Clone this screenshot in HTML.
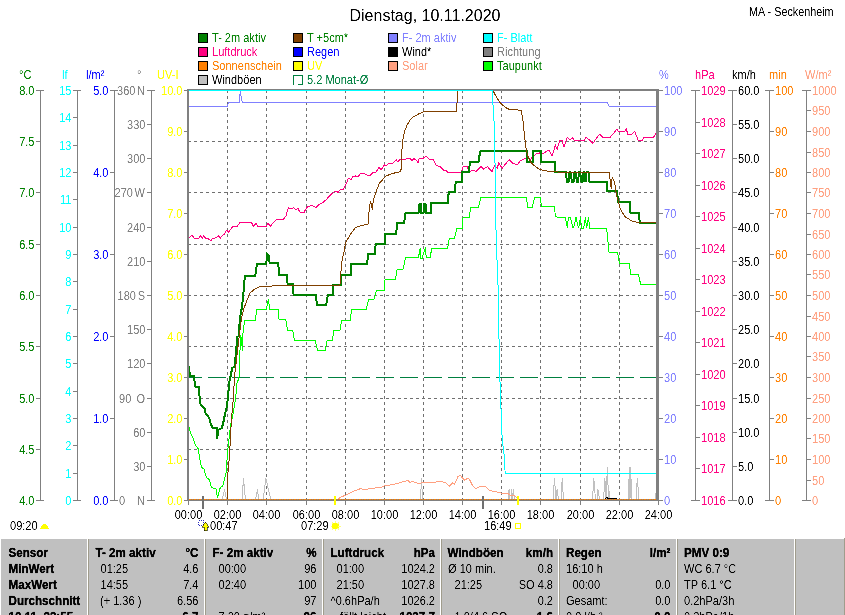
<!DOCTYPE html>
<html><head><meta charset="utf-8"><title>Dienstag, 10.11.2020</title>
<style>
html,body{margin:0;padding:0;background:#fff;width:845px;height:615px;overflow:hidden}
svg{display:block}
text{white-space:pre}
</style></head><body>
<svg width="845" height="615" viewBox="0 0 845 615" font-family='"Liberation Sans", Arial, sans-serif' shape-rendering="crispEdges">
<defs><filter id="crisp" x="-5%" y="-20%" width="110%" height="140%"><feComponentTransfer><feFuncA type="table" tableValues="0 0.1 0.9 1"/></feComponentTransfer></filter></defs>
<rect width="845" height="615" fill="#fff"/>
<text transform="translate(349.5,21) scale(1.0,1)" fill="#000" font-size="16" text-anchor="start" filter="url(#crisp)">Dienstag, 10.11.2020</text>
<text transform="translate(749,16) scale(0.9,1)" fill="#000" font-size="12" text-anchor="start" filter="url(#crisp)">MA - Seckenheim</text>
<rect x="198.5" y="33.5" width="9" height="9" fill="#008000" stroke="#000" stroke-width="1"/>
<text transform="translate(212,42) scale(0.92,1)" fill="#008000" font-size="12" text-anchor="start" filter="url(#crisp)">T- 2m aktiv</text>
<rect x="198.5" y="47.5" width="9" height="9" fill="#FF0080" stroke="#000" stroke-width="1"/>
<text transform="translate(212,56) scale(0.92,1)" fill="#FF0080" font-size="12" text-anchor="start" filter="url(#crisp)">Luftdruck</text>
<rect x="198.5" y="61.5" width="9" height="9" fill="#FF8000" stroke="#000" stroke-width="1"/>
<text transform="translate(212,70) scale(0.92,1)" fill="#FF8000" font-size="12" text-anchor="start" filter="url(#crisp)">Sonnenschein</text>
<rect x="198.5" y="75.5" width="9" height="9" fill="#C0C0C0" stroke="#000" stroke-width="1"/>
<text transform="translate(212,84) scale(0.92,1)" fill="#000000" font-size="12" text-anchor="start" filter="url(#crisp)">Windböen</text>
<rect x="293.5" y="33.5" width="9" height="9" fill="#804000" stroke="#000" stroke-width="1"/>
<text transform="translate(307,42) scale(0.92,1)" fill="#008000" font-size="12" text-anchor="start" filter="url(#crisp)">T +5cm*</text>
<rect x="293.5" y="47.5" width="9" height="9" fill="#0000FF" stroke="#000" stroke-width="1"/>
<text transform="translate(307,56) scale(0.92,1)" fill="#0000FF" font-size="12" text-anchor="start" filter="url(#crisp)">Regen</text>
<rect x="293.5" y="61.5" width="9" height="9" fill="#FFFF00" stroke="#000" stroke-width="1"/>
<text transform="translate(307,70) scale(0.92,1)" fill="#FFFF00" font-size="12" text-anchor="start" filter="url(#crisp)">UV</text>
<path d="M293.5,85 V75.5 H302.5 V84.5 H298" fill="none" stroke="#008040" stroke-width="1"/>
<text transform="translate(307,84) scale(0.92,1)" fill="#008040" font-size="12" text-anchor="start" filter="url(#crisp)">5.2 Monat-Ø</text>
<rect x="388.5" y="33.5" width="9" height="9" fill="#8080FF" stroke="#000" stroke-width="1"/>
<text transform="translate(402,42) scale(0.92,1)" fill="#8080FF" font-size="12" text-anchor="start" filter="url(#crisp)">F- 2m aktiv</text>
<rect x="388.5" y="47.5" width="9" height="9" fill="#000000" stroke="#000" stroke-width="1"/>
<text transform="translate(402,56) scale(0.92,1)" fill="#000000" font-size="12" text-anchor="start" filter="url(#crisp)">Wind*</text>
<rect x="388.5" y="61.5" width="9" height="9" fill="#FFA080" stroke="#000" stroke-width="1"/>
<text transform="translate(402,70) scale(0.92,1)" fill="#FFA080" font-size="12" text-anchor="start" filter="url(#crisp)">Solar</text>
<rect x="483.5" y="33.5" width="9" height="9" fill="#00FFFF" stroke="#000" stroke-width="1"/>
<text transform="translate(497,42) scale(0.92,1)" fill="#00FFFF" font-size="12" text-anchor="start" filter="url(#crisp)">F- Blatt</text>
<rect x="483.5" y="47.5" width="9" height="9" fill="#808080" stroke="#000" stroke-width="1"/>
<text transform="translate(497,56) scale(0.92,1)" fill="#808080" font-size="12" text-anchor="start" filter="url(#crisp)">Richtung</text>
<rect x="483.5" y="61.5" width="9" height="9" fill="#00FF00" stroke="#000" stroke-width="1"/>
<text transform="translate(497,70) scale(0.92,1)" fill="#008000" font-size="12" text-anchor="start" filter="url(#crisp)">Taupunkt</text>
<text transform="translate(19,79) scale(0.92,1)" fill="#008000" font-size="12" text-anchor="start" filter="url(#crisp)">°C</text>
<text transform="translate(62,79) scale(0.92,1)" fill="#00FFFF" font-size="12" text-anchor="start" filter="url(#crisp)">lf</text>
<text transform="translate(86,79) scale(0.92,1)" fill="#0000FF" font-size="12" text-anchor="start" filter="url(#crisp)">l/m²</text>
<text transform="translate(137,79) scale(0.92,1)" fill="#808080" font-size="12" text-anchor="start" filter="url(#crisp)">°</text>
<text transform="translate(157,79) scale(0.92,1)" fill="#FFFF00" font-size="12" text-anchor="start" filter="url(#crisp)">UV-I</text>
<text transform="translate(659,79) scale(0.92,1)" fill="#8080FF" font-size="12" text-anchor="start" filter="url(#crisp)">%</text>
<text transform="translate(695,79) scale(0.92,1)" fill="#FF0080" font-size="12" text-anchor="start" filter="url(#crisp)">hPa</text>
<text transform="translate(732,79) scale(0.92,1)" fill="#000000" font-size="12" text-anchor="start" filter="url(#crisp)">km/h</text>
<text transform="translate(769,79) scale(0.92,1)" fill="#FF8000" font-size="12" text-anchor="start" filter="url(#crisp)">min</text>
<text transform="translate(805,79) scale(0.92,1)" fill="#FFA080" font-size="12" text-anchor="start" filter="url(#crisp)">W/m²</text>
<rect x="40" y="90" width="1" height="411" fill="#808080"/>
<rect x="36" y="90" width="8" height="1" fill="#808080"/>
<text transform="translate(34.5,95) scale(0.92,1)" fill="#008000" font-size="12" text-anchor="end" filter="url(#crisp)">8.0</text>
<rect x="36" y="141" width="5" height="1" fill="#808080"/>
<text transform="translate(34.5,146) scale(0.92,1)" fill="#008000" font-size="12" text-anchor="end" filter="url(#crisp)">7.5</text>
<rect x="36" y="192" width="5" height="1" fill="#808080"/>
<text transform="translate(34.5,197) scale(0.92,1)" fill="#008000" font-size="12" text-anchor="end" filter="url(#crisp)">7.0</text>
<rect x="36" y="244" width="5" height="1" fill="#808080"/>
<text transform="translate(34.5,249) scale(0.92,1)" fill="#008000" font-size="12" text-anchor="end" filter="url(#crisp)">6.5</text>
<rect x="36" y="295" width="5" height="1" fill="#808080"/>
<text transform="translate(34.5,300) scale(0.92,1)" fill="#008000" font-size="12" text-anchor="end" filter="url(#crisp)">6.0</text>
<rect x="36" y="346" width="5" height="1" fill="#808080"/>
<text transform="translate(34.5,351) scale(0.92,1)" fill="#008000" font-size="12" text-anchor="end" filter="url(#crisp)">5.5</text>
<rect x="36" y="398" width="5" height="1" fill="#808080"/>
<text transform="translate(34.5,403) scale(0.92,1)" fill="#008000" font-size="12" text-anchor="end" filter="url(#crisp)">5.0</text>
<rect x="36" y="449" width="5" height="1" fill="#808080"/>
<text transform="translate(34.5,454) scale(0.92,1)" fill="#008000" font-size="12" text-anchor="end" filter="url(#crisp)">4.5</text>
<rect x="36" y="500" width="8" height="1" fill="#808080"/>
<text transform="translate(34.5,505) scale(0.92,1)" fill="#008000" font-size="12" text-anchor="end" filter="url(#crisp)">4.0</text>
<rect x="77" y="90" width="1" height="411" fill="#808080"/>
<rect x="73" y="90" width="8" height="1" fill="#808080"/>
<text transform="translate(71.5,95) scale(0.92,1)" fill="#00FFFF" font-size="12" text-anchor="end" filter="url(#crisp)">15</text>
<rect x="73" y="117" width="5" height="1" fill="#808080"/>
<text transform="translate(71.5,122) scale(0.92,1)" fill="#00FFFF" font-size="12" text-anchor="end" filter="url(#crisp)">14</text>
<rect x="73" y="145" width="5" height="1" fill="#808080"/>
<text transform="translate(71.5,150) scale(0.92,1)" fill="#00FFFF" font-size="12" text-anchor="end" filter="url(#crisp)">13</text>
<rect x="73" y="172" width="5" height="1" fill="#808080"/>
<text transform="translate(71.5,177) scale(0.92,1)" fill="#00FFFF" font-size="12" text-anchor="end" filter="url(#crisp)">12</text>
<rect x="73" y="199" width="5" height="1" fill="#808080"/>
<text transform="translate(71.5,204) scale(0.92,1)" fill="#00FFFF" font-size="12" text-anchor="end" filter="url(#crisp)">11</text>
<rect x="73" y="227" width="5" height="1" fill="#808080"/>
<text transform="translate(71.5,232) scale(0.92,1)" fill="#00FFFF" font-size="12" text-anchor="end" filter="url(#crisp)">10</text>
<rect x="73" y="254" width="5" height="1" fill="#808080"/>
<text transform="translate(71.5,259) scale(0.92,1)" fill="#00FFFF" font-size="12" text-anchor="end" filter="url(#crisp)">9</text>
<rect x="73" y="281" width="5" height="1" fill="#808080"/>
<text transform="translate(71.5,286) scale(0.92,1)" fill="#00FFFF" font-size="12" text-anchor="end" filter="url(#crisp)">8</text>
<rect x="73" y="309" width="5" height="1" fill="#808080"/>
<text transform="translate(71.5,314) scale(0.92,1)" fill="#00FFFF" font-size="12" text-anchor="end" filter="url(#crisp)">7</text>
<rect x="73" y="336" width="5" height="1" fill="#808080"/>
<text transform="translate(71.5,341) scale(0.92,1)" fill="#00FFFF" font-size="12" text-anchor="end" filter="url(#crisp)">6</text>
<rect x="73" y="363" width="5" height="1" fill="#808080"/>
<text transform="translate(71.5,368) scale(0.92,1)" fill="#00FFFF" font-size="12" text-anchor="end" filter="url(#crisp)">5</text>
<rect x="73" y="391" width="5" height="1" fill="#808080"/>
<text transform="translate(71.5,396) scale(0.92,1)" fill="#00FFFF" font-size="12" text-anchor="end" filter="url(#crisp)">4</text>
<rect x="73" y="418" width="5" height="1" fill="#808080"/>
<text transform="translate(71.5,423) scale(0.92,1)" fill="#00FFFF" font-size="12" text-anchor="end" filter="url(#crisp)">3</text>
<rect x="73" y="445" width="5" height="1" fill="#808080"/>
<text transform="translate(71.5,450) scale(0.92,1)" fill="#00FFFF" font-size="12" text-anchor="end" filter="url(#crisp)">2</text>
<rect x="73" y="473" width="5" height="1" fill="#808080"/>
<text transform="translate(71.5,478) scale(0.92,1)" fill="#00FFFF" font-size="12" text-anchor="end" filter="url(#crisp)">1</text>
<rect x="73" y="500" width="8" height="1" fill="#808080"/>
<text transform="translate(71.5,505) scale(0.92,1)" fill="#00FFFF" font-size="12" text-anchor="end" filter="url(#crisp)">0</text>
<rect x="114" y="90" width="1" height="411" fill="#808080"/>
<rect x="110" y="90" width="8" height="1" fill="#808080"/>
<text transform="translate(108.5,95) scale(0.92,1)" fill="#0000FF" font-size="12" text-anchor="end" filter="url(#crisp)">5.0</text>
<rect x="110" y="172" width="5" height="1" fill="#808080"/>
<text transform="translate(108.5,177) scale(0.92,1)" fill="#0000FF" font-size="12" text-anchor="end" filter="url(#crisp)">4.0</text>
<rect x="110" y="254" width="5" height="1" fill="#808080"/>
<text transform="translate(108.5,259) scale(0.92,1)" fill="#0000FF" font-size="12" text-anchor="end" filter="url(#crisp)">3.0</text>
<rect x="110" y="336" width="5" height="1" fill="#808080"/>
<text transform="translate(108.5,341) scale(0.92,1)" fill="#0000FF" font-size="12" text-anchor="end" filter="url(#crisp)">2.0</text>
<rect x="110" y="418" width="5" height="1" fill="#808080"/>
<text transform="translate(108.5,423) scale(0.92,1)" fill="#0000FF" font-size="12" text-anchor="end" filter="url(#crisp)">1.0</text>
<rect x="110" y="500" width="8" height="1" fill="#808080"/>
<text transform="translate(108.5,505) scale(0.92,1)" fill="#0000FF" font-size="12" text-anchor="end" filter="url(#crisp)">0.0</text>
<rect x="151" y="90" width="1" height="411" fill="#808080"/>
<rect x="147" y="90" width="8" height="1" fill="#808080"/>
<rect x="147" y="124" width="5" height="1" fill="#808080"/>
<text transform="translate(145.5,129) scale(0.92,1)" fill="#808080" font-size="12" text-anchor="end" filter="url(#crisp)">330</text>
<rect x="147" y="158" width="5" height="1" fill="#808080"/>
<text transform="translate(145.5,163) scale(0.92,1)" fill="#808080" font-size="12" text-anchor="end" filter="url(#crisp)">300</text>
<rect x="147" y="192" width="5" height="1" fill="#808080"/>
<rect x="147" y="227" width="5" height="1" fill="#808080"/>
<text transform="translate(145.5,232) scale(0.92,1)" fill="#808080" font-size="12" text-anchor="end" filter="url(#crisp)">240</text>
<rect x="147" y="261" width="5" height="1" fill="#808080"/>
<text transform="translate(145.5,266) scale(0.92,1)" fill="#808080" font-size="12" text-anchor="end" filter="url(#crisp)">210</text>
<rect x="147" y="295" width="5" height="1" fill="#808080"/>
<rect x="147" y="329" width="5" height="1" fill="#808080"/>
<text transform="translate(145.5,334) scale(0.92,1)" fill="#808080" font-size="12" text-anchor="end" filter="url(#crisp)">150</text>
<rect x="147" y="363" width="5" height="1" fill="#808080"/>
<text transform="translate(145.5,368) scale(0.92,1)" fill="#808080" font-size="12" text-anchor="end" filter="url(#crisp)">120</text>
<rect x="147" y="398" width="5" height="1" fill="#808080"/>
<rect x="147" y="432" width="5" height="1" fill="#808080"/>
<text transform="translate(145.5,437) scale(0.92,1)" fill="#808080" font-size="12" text-anchor="end" filter="url(#crisp)">60</text>
<rect x="147" y="466" width="5" height="1" fill="#808080"/>
<text transform="translate(145.5,471) scale(0.92,1)" fill="#808080" font-size="12" text-anchor="end" filter="url(#crisp)">30</text>
<rect x="147" y="500" width="8" height="1" fill="#808080"/>
<text transform="translate(117,95) scale(0.92,1)" fill="#808080" font-size="12" text-anchor="start" filter="url(#crisp)">360</text>
<text transform="translate(145,95) scale(0.92,1)" fill="#808080" font-size="12" text-anchor="end" filter="url(#crisp)">N</text>
<text transform="translate(114.5,197) scale(0.92,1)" fill="#808080" font-size="12" text-anchor="start" filter="url(#crisp)">270</text>
<text transform="translate(145,197) scale(0.92,1)" fill="#808080" font-size="12" text-anchor="end" filter="url(#crisp)">W</text>
<text transform="translate(117.5,300) scale(0.92,1)" fill="#808080" font-size="12" text-anchor="start" filter="url(#crisp)">180</text>
<text transform="translate(145,300) scale(0.92,1)" fill="#808080" font-size="12" text-anchor="end" filter="url(#crisp)">S</text>
<text transform="translate(119,403) scale(0.92,1)" fill="#808080" font-size="12" text-anchor="start" filter="url(#crisp)">90</text>
<text transform="translate(145,403) scale(0.92,1)" fill="#808080" font-size="12" text-anchor="end" filter="url(#crisp)">O</text>
<text transform="translate(119,505) scale(0.92,1)" fill="#808080" font-size="12" text-anchor="start" filter="url(#crisp)">0</text>
<text transform="translate(145,505) scale(0.92,1)" fill="#808080" font-size="12" text-anchor="end" filter="url(#crisp)">N</text>
<rect x="184" y="90" width="4" height="1" fill="#808080"/>
<text transform="translate(182.5,95) scale(0.92,1)" fill="#FFFF00" font-size="12" text-anchor="end" filter="url(#crisp)">10.0</text>
<rect x="184" y="131" width="4" height="1" fill="#808080"/>
<text transform="translate(182.5,136) scale(0.92,1)" fill="#FFFF00" font-size="12" text-anchor="end" filter="url(#crisp)">9.0</text>
<rect x="184" y="172" width="4" height="1" fill="#808080"/>
<text transform="translate(182.5,177) scale(0.92,1)" fill="#FFFF00" font-size="12" text-anchor="end" filter="url(#crisp)">8.0</text>
<rect x="184" y="213" width="4" height="1" fill="#808080"/>
<text transform="translate(182.5,218) scale(0.92,1)" fill="#FFFF00" font-size="12" text-anchor="end" filter="url(#crisp)">7.0</text>
<rect x="184" y="254" width="4" height="1" fill="#808080"/>
<text transform="translate(182.5,259) scale(0.92,1)" fill="#FFFF00" font-size="12" text-anchor="end" filter="url(#crisp)">6.0</text>
<rect x="184" y="295" width="4" height="1" fill="#808080"/>
<text transform="translate(182.5,300) scale(0.92,1)" fill="#FFFF00" font-size="12" text-anchor="end" filter="url(#crisp)">5.0</text>
<rect x="184" y="336" width="4" height="1" fill="#808080"/>
<text transform="translate(182.5,341) scale(0.92,1)" fill="#FFFF00" font-size="12" text-anchor="end" filter="url(#crisp)">4.0</text>
<rect x="184" y="377" width="4" height="1" fill="#808080"/>
<text transform="translate(182.5,382) scale(0.92,1)" fill="#FFFF00" font-size="12" text-anchor="end" filter="url(#crisp)">3.0</text>
<rect x="184" y="418" width="4" height="1" fill="#808080"/>
<text transform="translate(182.5,423) scale(0.92,1)" fill="#FFFF00" font-size="12" text-anchor="end" filter="url(#crisp)">2.0</text>
<rect x="184" y="459" width="4" height="1" fill="#808080"/>
<text transform="translate(182.5,464) scale(0.92,1)" fill="#FFFF00" font-size="12" text-anchor="end" filter="url(#crisp)">1.0</text>
<rect x="184" y="500" width="4" height="1" fill="#808080"/>
<text transform="translate(182.5,505) scale(0.92,1)" fill="#FFFF00" font-size="12" text-anchor="end" filter="url(#crisp)">0.0</text>
<rect x="659" y="90" width="4" height="1" fill="#808080"/>
<text transform="translate(664,95) scale(0.92,1)" fill="#8080FF" font-size="12" text-anchor="start" filter="url(#crisp)">100</text>
<rect x="659" y="131" width="4" height="1" fill="#808080"/>
<text transform="translate(664,136) scale(0.92,1)" fill="#8080FF" font-size="12" text-anchor="start" filter="url(#crisp)">90</text>
<rect x="659" y="172" width="4" height="1" fill="#808080"/>
<text transform="translate(664,177) scale(0.92,1)" fill="#8080FF" font-size="12" text-anchor="start" filter="url(#crisp)">80</text>
<rect x="659" y="213" width="4" height="1" fill="#808080"/>
<text transform="translate(664,218) scale(0.92,1)" fill="#8080FF" font-size="12" text-anchor="start" filter="url(#crisp)">70</text>
<rect x="659" y="254" width="4" height="1" fill="#808080"/>
<text transform="translate(664,259) scale(0.92,1)" fill="#8080FF" font-size="12" text-anchor="start" filter="url(#crisp)">60</text>
<rect x="659" y="295" width="4" height="1" fill="#808080"/>
<text transform="translate(664,300) scale(0.92,1)" fill="#8080FF" font-size="12" text-anchor="start" filter="url(#crisp)">50</text>
<rect x="659" y="336" width="4" height="1" fill="#808080"/>
<text transform="translate(664,341) scale(0.92,1)" fill="#8080FF" font-size="12" text-anchor="start" filter="url(#crisp)">40</text>
<rect x="659" y="377" width="4" height="1" fill="#808080"/>
<text transform="translate(664,382) scale(0.92,1)" fill="#8080FF" font-size="12" text-anchor="start" filter="url(#crisp)">30</text>
<rect x="659" y="418" width="4" height="1" fill="#808080"/>
<text transform="translate(664,423) scale(0.92,1)" fill="#8080FF" font-size="12" text-anchor="start" filter="url(#crisp)">20</text>
<rect x="659" y="459" width="4" height="1" fill="#808080"/>
<text transform="translate(664,464) scale(0.92,1)" fill="#8080FF" font-size="12" text-anchor="start" filter="url(#crisp)">10</text>
<rect x="659" y="500" width="4" height="1" fill="#808080"/>
<text transform="translate(664,505) scale(0.92,1)" fill="#8080FF" font-size="12" text-anchor="start" filter="url(#crisp)">0</text>
<rect x="695" y="90" width="1" height="411" fill="#808080"/>
<rect x="691" y="90" width="9" height="1" fill="#808080"/>
<text transform="translate(701,95) scale(0.92,1)" fill="#FF0080" font-size="12" text-anchor="start" filter="url(#crisp)">1029</text>
<rect x="695" y="122" width="5" height="1" fill="#808080"/>
<text transform="translate(701,127) scale(0.92,1)" fill="#FF0080" font-size="12" text-anchor="start" filter="url(#crisp)">1028</text>
<rect x="695" y="153" width="5" height="1" fill="#808080"/>
<text transform="translate(701,158) scale(0.92,1)" fill="#FF0080" font-size="12" text-anchor="start" filter="url(#crisp)">1027</text>
<rect x="695" y="185" width="5" height="1" fill="#808080"/>
<text transform="translate(701,190) scale(0.92,1)" fill="#FF0080" font-size="12" text-anchor="start" filter="url(#crisp)">1026</text>
<rect x="695" y="216" width="5" height="1" fill="#808080"/>
<text transform="translate(701,221) scale(0.92,1)" fill="#FF0080" font-size="12" text-anchor="start" filter="url(#crisp)">1025</text>
<rect x="695" y="248" width="5" height="1" fill="#808080"/>
<text transform="translate(701,253) scale(0.92,1)" fill="#FF0080" font-size="12" text-anchor="start" filter="url(#crisp)">1024</text>
<rect x="695" y="279" width="5" height="1" fill="#808080"/>
<text transform="translate(701,284) scale(0.92,1)" fill="#FF0080" font-size="12" text-anchor="start" filter="url(#crisp)">1023</text>
<rect x="695" y="311" width="5" height="1" fill="#808080"/>
<text transform="translate(701,316) scale(0.92,1)" fill="#FF0080" font-size="12" text-anchor="start" filter="url(#crisp)">1022</text>
<rect x="695" y="342" width="5" height="1" fill="#808080"/>
<text transform="translate(701,347) scale(0.92,1)" fill="#FF0080" font-size="12" text-anchor="start" filter="url(#crisp)">1021</text>
<rect x="695" y="374" width="5" height="1" fill="#808080"/>
<text transform="translate(701,379) scale(0.92,1)" fill="#FF0080" font-size="12" text-anchor="start" filter="url(#crisp)">1020</text>
<rect x="695" y="405" width="5" height="1" fill="#808080"/>
<text transform="translate(701,410) scale(0.92,1)" fill="#FF0080" font-size="12" text-anchor="start" filter="url(#crisp)">1019</text>
<rect x="695" y="437" width="5" height="1" fill="#808080"/>
<text transform="translate(701,442) scale(0.92,1)" fill="#FF0080" font-size="12" text-anchor="start" filter="url(#crisp)">1018</text>
<rect x="695" y="468" width="5" height="1" fill="#808080"/>
<text transform="translate(701,473) scale(0.92,1)" fill="#FF0080" font-size="12" text-anchor="start" filter="url(#crisp)">1017</text>
<rect x="691" y="500" width="9" height="1" fill="#808080"/>
<text transform="translate(701,505) scale(0.92,1)" fill="#FF0080" font-size="12" text-anchor="start" filter="url(#crisp)">1016</text>
<rect x="732" y="90" width="1" height="411" fill="#808080"/>
<rect x="728" y="90" width="9" height="1" fill="#808080"/>
<text transform="translate(738,95) scale(0.92,1)" fill="#000000" font-size="12" text-anchor="start" filter="url(#crisp)">60.0</text>
<rect x="732" y="124" width="5" height="1" fill="#808080"/>
<text transform="translate(738,129) scale(0.92,1)" fill="#000000" font-size="12" text-anchor="start" filter="url(#crisp)">55.0</text>
<rect x="732" y="158" width="5" height="1" fill="#808080"/>
<text transform="translate(738,163) scale(0.92,1)" fill="#000000" font-size="12" text-anchor="start" filter="url(#crisp)">50.0</text>
<rect x="732" y="192" width="5" height="1" fill="#808080"/>
<text transform="translate(738,197) scale(0.92,1)" fill="#000000" font-size="12" text-anchor="start" filter="url(#crisp)">45.0</text>
<rect x="732" y="227" width="5" height="1" fill="#808080"/>
<text transform="translate(738,232) scale(0.92,1)" fill="#000000" font-size="12" text-anchor="start" filter="url(#crisp)">40.0</text>
<rect x="732" y="261" width="5" height="1" fill="#808080"/>
<text transform="translate(738,266) scale(0.92,1)" fill="#000000" font-size="12" text-anchor="start" filter="url(#crisp)">35.0</text>
<rect x="732" y="295" width="5" height="1" fill="#808080"/>
<text transform="translate(738,300) scale(0.92,1)" fill="#000000" font-size="12" text-anchor="start" filter="url(#crisp)">30.0</text>
<rect x="732" y="329" width="5" height="1" fill="#808080"/>
<text transform="translate(738,334) scale(0.92,1)" fill="#000000" font-size="12" text-anchor="start" filter="url(#crisp)">25.0</text>
<rect x="732" y="363" width="5" height="1" fill="#808080"/>
<text transform="translate(738,368) scale(0.92,1)" fill="#000000" font-size="12" text-anchor="start" filter="url(#crisp)">20.0</text>
<rect x="732" y="398" width="5" height="1" fill="#808080"/>
<text transform="translate(738,403) scale(0.92,1)" fill="#000000" font-size="12" text-anchor="start" filter="url(#crisp)">15.0</text>
<rect x="732" y="432" width="5" height="1" fill="#808080"/>
<text transform="translate(738,437) scale(0.92,1)" fill="#000000" font-size="12" text-anchor="start" filter="url(#crisp)">10.0</text>
<rect x="732" y="466" width="5" height="1" fill="#808080"/>
<text transform="translate(738,471) scale(0.92,1)" fill="#000000" font-size="12" text-anchor="start" filter="url(#crisp)">5.0</text>
<rect x="728" y="500" width="9" height="1" fill="#808080"/>
<text transform="translate(738,505) scale(0.92,1)" fill="#000000" font-size="12" text-anchor="start" filter="url(#crisp)">0.0</text>
<rect x="769" y="90" width="1" height="411" fill="#808080"/>
<rect x="765" y="90" width="9" height="1" fill="#808080"/>
<text transform="translate(775,95) scale(0.92,1)" fill="#FF8000" font-size="12" text-anchor="start" filter="url(#crisp)">100</text>
<rect x="769" y="131" width="5" height="1" fill="#808080"/>
<text transform="translate(775,136) scale(0.92,1)" fill="#FF8000" font-size="12" text-anchor="start" filter="url(#crisp)">90</text>
<rect x="769" y="172" width="5" height="1" fill="#808080"/>
<text transform="translate(775,177) scale(0.92,1)" fill="#FF8000" font-size="12" text-anchor="start" filter="url(#crisp)">80</text>
<rect x="769" y="213" width="5" height="1" fill="#808080"/>
<text transform="translate(775,218) scale(0.92,1)" fill="#FF8000" font-size="12" text-anchor="start" filter="url(#crisp)">70</text>
<rect x="769" y="254" width="5" height="1" fill="#808080"/>
<text transform="translate(775,259) scale(0.92,1)" fill="#FF8000" font-size="12" text-anchor="start" filter="url(#crisp)">60</text>
<rect x="769" y="295" width="5" height="1" fill="#808080"/>
<text transform="translate(775,300) scale(0.92,1)" fill="#FF8000" font-size="12" text-anchor="start" filter="url(#crisp)">50</text>
<rect x="769" y="336" width="5" height="1" fill="#808080"/>
<text transform="translate(775,341) scale(0.92,1)" fill="#FF8000" font-size="12" text-anchor="start" filter="url(#crisp)">40</text>
<rect x="769" y="377" width="5" height="1" fill="#808080"/>
<text transform="translate(775,382) scale(0.92,1)" fill="#FF8000" font-size="12" text-anchor="start" filter="url(#crisp)">30</text>
<rect x="769" y="418" width="5" height="1" fill="#808080"/>
<text transform="translate(775,423) scale(0.92,1)" fill="#FF8000" font-size="12" text-anchor="start" filter="url(#crisp)">20</text>
<rect x="769" y="459" width="5" height="1" fill="#808080"/>
<text transform="translate(775,464) scale(0.92,1)" fill="#FF8000" font-size="12" text-anchor="start" filter="url(#crisp)">10</text>
<rect x="765" y="500" width="9" height="1" fill="#808080"/>
<text transform="translate(775,505) scale(0.92,1)" fill="#FF8000" font-size="12" text-anchor="start" filter="url(#crisp)">0</text>
<rect x="806" y="90" width="1" height="411" fill="#808080"/>
<rect x="802" y="90" width="9" height="1" fill="#808080"/>
<text transform="translate(812,95) scale(0.92,1)" fill="#FFA080" font-size="12" text-anchor="start" filter="url(#crisp)">1000</text>
<rect x="806" y="110" width="5" height="1" fill="#808080"/>
<text transform="translate(812,115) scale(0.92,1)" fill="#FFA080" font-size="12" text-anchor="start" filter="url(#crisp)">950</text>
<rect x="806" y="131" width="5" height="1" fill="#808080"/>
<text transform="translate(812,136) scale(0.92,1)" fill="#FFA080" font-size="12" text-anchor="start" filter="url(#crisp)">900</text>
<rect x="806" y="152" width="5" height="1" fill="#808080"/>
<text transform="translate(812,157) scale(0.92,1)" fill="#FFA080" font-size="12" text-anchor="start" filter="url(#crisp)">850</text>
<rect x="806" y="172" width="5" height="1" fill="#808080"/>
<text transform="translate(812,177) scale(0.92,1)" fill="#FFA080" font-size="12" text-anchor="start" filter="url(#crisp)">800</text>
<rect x="806" y="192" width="5" height="1" fill="#808080"/>
<text transform="translate(812,197) scale(0.92,1)" fill="#FFA080" font-size="12" text-anchor="start" filter="url(#crisp)">750</text>
<rect x="806" y="213" width="5" height="1" fill="#808080"/>
<text transform="translate(812,218) scale(0.92,1)" fill="#FFA080" font-size="12" text-anchor="start" filter="url(#crisp)">700</text>
<rect x="806" y="234" width="5" height="1" fill="#808080"/>
<text transform="translate(812,239) scale(0.92,1)" fill="#FFA080" font-size="12" text-anchor="start" filter="url(#crisp)">650</text>
<rect x="806" y="254" width="5" height="1" fill="#808080"/>
<text transform="translate(812,259) scale(0.92,1)" fill="#FFA080" font-size="12" text-anchor="start" filter="url(#crisp)">600</text>
<rect x="806" y="274" width="5" height="1" fill="#808080"/>
<text transform="translate(812,279) scale(0.92,1)" fill="#FFA080" font-size="12" text-anchor="start" filter="url(#crisp)">550</text>
<rect x="806" y="295" width="5" height="1" fill="#808080"/>
<text transform="translate(812,300) scale(0.92,1)" fill="#FFA080" font-size="12" text-anchor="start" filter="url(#crisp)">500</text>
<rect x="806" y="316" width="5" height="1" fill="#808080"/>
<text transform="translate(812,321) scale(0.92,1)" fill="#FFA080" font-size="12" text-anchor="start" filter="url(#crisp)">450</text>
<rect x="806" y="336" width="5" height="1" fill="#808080"/>
<text transform="translate(812,341) scale(0.92,1)" fill="#FFA080" font-size="12" text-anchor="start" filter="url(#crisp)">400</text>
<rect x="806" y="356" width="5" height="1" fill="#808080"/>
<text transform="translate(812,361) scale(0.92,1)" fill="#FFA080" font-size="12" text-anchor="start" filter="url(#crisp)">350</text>
<rect x="806" y="377" width="5" height="1" fill="#808080"/>
<text transform="translate(812,382) scale(0.92,1)" fill="#FFA080" font-size="12" text-anchor="start" filter="url(#crisp)">300</text>
<rect x="806" y="398" width="5" height="1" fill="#808080"/>
<text transform="translate(812,403) scale(0.92,1)" fill="#FFA080" font-size="12" text-anchor="start" filter="url(#crisp)">250</text>
<rect x="806" y="418" width="5" height="1" fill="#808080"/>
<text transform="translate(812,423) scale(0.92,1)" fill="#FFA080" font-size="12" text-anchor="start" filter="url(#crisp)">200</text>
<rect x="806" y="438" width="5" height="1" fill="#808080"/>
<text transform="translate(812,443) scale(0.92,1)" fill="#FFA080" font-size="12" text-anchor="start" filter="url(#crisp)">150</text>
<rect x="806" y="459" width="5" height="1" fill="#808080"/>
<text transform="translate(812,464) scale(0.92,1)" fill="#FFA080" font-size="12" text-anchor="start" filter="url(#crisp)">100</text>
<rect x="806" y="480" width="5" height="1" fill="#808080"/>
<text transform="translate(812,485) scale(0.92,1)" fill="#FFA080" font-size="12" text-anchor="start" filter="url(#crisp)">50</text>
<rect x="802" y="500" width="9" height="1" fill="#808080"/>
<text transform="translate(812,505) scale(0.92,1)" fill="#FFA080" font-size="12" text-anchor="start" filter="url(#crisp)">0</text>
<line x1="227.5" y1="90" x2="227.5" y2="499" stroke="#707070" stroke-width="1" stroke-dasharray="3 3"/>
<line x1="266.5" y1="90" x2="266.5" y2="499" stroke="#707070" stroke-width="1" stroke-dasharray="3 3"/>
<line x1="306.5" y1="90" x2="306.5" y2="499" stroke="#707070" stroke-width="1" stroke-dasharray="3 3"/>
<line x1="345.5" y1="90" x2="345.5" y2="499" stroke="#707070" stroke-width="1" stroke-dasharray="3 3"/>
<line x1="384.5" y1="90" x2="384.5" y2="499" stroke="#707070" stroke-width="1" stroke-dasharray="3 3"/>
<line x1="423.5" y1="90" x2="423.5" y2="499" stroke="#707070" stroke-width="1" stroke-dasharray="3 3"/>
<line x1="462.5" y1="90" x2="462.5" y2="499" stroke="#707070" stroke-width="1" stroke-dasharray="3 3"/>
<line x1="501.5" y1="90" x2="501.5" y2="499" stroke="#707070" stroke-width="1" stroke-dasharray="3 3"/>
<line x1="540.5" y1="90" x2="540.5" y2="499" stroke="#707070" stroke-width="1" stroke-dasharray="3 3"/>
<line x1="580.5" y1="90" x2="580.5" y2="499" stroke="#707070" stroke-width="1" stroke-dasharray="3 3"/>
<line x1="619.5" y1="90" x2="619.5" y2="499" stroke="#707070" stroke-width="1" stroke-dasharray="3 3"/>
<line x1="188" y1="449.5" x2="657" y2="449.5" stroke="#707070" stroke-width="1" stroke-dasharray="3 3"/>
<line x1="188" y1="398.5" x2="657" y2="398.5" stroke="#707070" stroke-width="1" stroke-dasharray="3 3"/>
<line x1="188" y1="346.5" x2="657" y2="346.5" stroke="#707070" stroke-width="1" stroke-dasharray="3 3"/>
<line x1="188" y1="295.5" x2="657" y2="295.5" stroke="#707070" stroke-width="1" stroke-dasharray="3 3"/>
<line x1="188" y1="244.5" x2="657" y2="244.5" stroke="#707070" stroke-width="1" stroke-dasharray="3 3"/>
<line x1="188" y1="192.5" x2="657" y2="192.5" stroke="#707070" stroke-width="1" stroke-dasharray="3 3"/>
<line x1="188" y1="141.5" x2="657" y2="141.5" stroke="#707070" stroke-width="1" stroke-dasharray="3 3"/>
<rect x="188" y="501" width="1" height="4" fill="#808080"/>
<text transform="translate(188.5,519) scale(0.92,1)" fill="#000" font-size="12" text-anchor="middle" filter="url(#crisp)">00:00</text>
<rect x="227" y="501" width="1" height="4" fill="#808080"/>
<text transform="translate(227.5,519) scale(0.92,1)" fill="#000" font-size="12" text-anchor="middle" filter="url(#crisp)">02:00</text>
<rect x="266" y="501" width="1" height="4" fill="#808080"/>
<text transform="translate(266.5,519) scale(0.92,1)" fill="#000" font-size="12" text-anchor="middle" filter="url(#crisp)">04:00</text>
<rect x="306" y="501" width="1" height="4" fill="#808080"/>
<text transform="translate(306.5,519) scale(0.92,1)" fill="#000" font-size="12" text-anchor="middle" filter="url(#crisp)">06:00</text>
<rect x="345" y="501" width="1" height="4" fill="#808080"/>
<text transform="translate(345.5,519) scale(0.92,1)" fill="#000" font-size="12" text-anchor="middle" filter="url(#crisp)">08:00</text>
<rect x="384" y="501" width="1" height="4" fill="#808080"/>
<text transform="translate(384.5,519) scale(0.92,1)" fill="#000" font-size="12" text-anchor="middle" filter="url(#crisp)">10:00</text>
<rect x="423" y="501" width="1" height="4" fill="#808080"/>
<text transform="translate(423.5,519) scale(0.92,1)" fill="#000" font-size="12" text-anchor="middle" filter="url(#crisp)">12:00</text>
<rect x="462" y="501" width="1" height="4" fill="#808080"/>
<text transform="translate(462.5,519) scale(0.92,1)" fill="#000" font-size="12" text-anchor="middle" filter="url(#crisp)">14:00</text>
<rect x="501" y="501" width="1" height="4" fill="#808080"/>
<text transform="translate(501.5,519) scale(0.92,1)" fill="#000" font-size="12" text-anchor="middle" filter="url(#crisp)">16:00</text>
<rect x="540" y="501" width="1" height="4" fill="#808080"/>
<text transform="translate(540.5,519) scale(0.92,1)" fill="#000" font-size="12" text-anchor="middle" filter="url(#crisp)">18:00</text>
<rect x="580" y="501" width="1" height="4" fill="#808080"/>
<text transform="translate(580.5,519) scale(0.92,1)" fill="#000" font-size="12" text-anchor="middle" filter="url(#crisp)">20:00</text>
<rect x="619" y="501" width="1" height="4" fill="#808080"/>
<text transform="translate(619.5,519) scale(0.92,1)" fill="#000" font-size="12" text-anchor="middle" filter="url(#crisp)">22:00</text>
<rect x="658" y="501" width="1" height="4" fill="#808080"/>
<text transform="translate(658.5,519) scale(0.92,1)" fill="#000" font-size="12" text-anchor="middle" filter="url(#crisp)">24:00</text>
<g shape-rendering="crispEdges">
<line x1="189" y1="377.5" x2="657" y2="377.5" stroke="#008040" stroke-width="1" stroke-dasharray="18 6" stroke-dashoffset="5.2"/>
</g>
<polyline points="222.1,499.5 224.6,489.2 226.4,499.5" fill="none" stroke="#C0C0C0" stroke-width="1" stroke-linejoin="miter" />
<polyline points="242.3,499.5 243.4,478.2 245.5,499.5" fill="none" stroke="#C0C0C0" stroke-width="1" stroke-linejoin="miter" />
<polyline points="255.5,499.5 257.5,489.2 258.7,499.5" fill="none" stroke="#C0C0C0" stroke-width="1" stroke-linejoin="miter" />
<polyline points="263.3,499.5 265.8,478.2 270.8,499.5" fill="none" stroke="#C0C0C0" stroke-width="1" stroke-linejoin="miter" />
<polyline points="420.5,499.5 421.5,478.4 422.5,499.5" fill="none" stroke="#C0C0C0" stroke-width="1" stroke-linejoin="miter" />
<polyline points="508.3,499.5 509.1,489.5 510.0,499.5" fill="none" stroke="#C0C0C0" stroke-width="1" stroke-linejoin="miter" />
<polyline points="511.0,499.5 511.7,489.5 512.5,499.5" fill="none" stroke="#C0C0C0" stroke-width="1" stroke-linejoin="miter" />
<polyline points="512.8,499.5 513.4,489.5 514.5,499.5" fill="none" stroke="#C0C0C0" stroke-width="1" stroke-linejoin="miter" />
<polyline points="553.0,499.5 554.5,478.4 556.0,499.5" fill="none" stroke="#C0C0C0" stroke-width="1" stroke-linejoin="miter" />
<polyline points="556.0,499.5 557.1,489.5 558.5,499.5" fill="none" stroke="#C0C0C0" stroke-width="1" stroke-linejoin="miter" />
<polyline points="561.0,499.5 562.2,478.4 563.5,499.5" fill="none" stroke="#C0C0C0" stroke-width="1" stroke-linejoin="miter" />
<polyline points="592.5,499.5 593.8,478.4 595.5,499.5" fill="none" stroke="#C0C0C0" stroke-width="1" stroke-linejoin="miter" />
<polyline points="597.0,499.5 598.0,489.5 599.5,499.5" fill="none" stroke="#C0C0C0" stroke-width="1" stroke-linejoin="miter" />
<polyline points="603.5,499.5 604.9,478.4 606.0,499.5" fill="none" stroke="#C0C0C0" stroke-width="1" stroke-linejoin="miter" />
<polyline points="606.0,499.5 607.4,467.3 608.5,499.5" fill="none" stroke="#C0C0C0" stroke-width="1" stroke-linejoin="miter" />
<polyline points="608.5,499.5 609.1,491.2 610.0,499.5" fill="none" stroke="#C0C0C0" stroke-width="1" stroke-linejoin="miter" />
<polyline points="628.0,499.5 629.6,467.3 630.0,499.5" fill="none" stroke="#C0C0C0" stroke-width="1" stroke-linejoin="miter" />
<polyline points="630.0,499.5 630.5,467.3 632.0,499.5" fill="none" stroke="#C0C0C0" stroke-width="1" stroke-linejoin="miter" />
<polyline points="636.0,499.5 637.3,478.4 639.0,499.5" fill="none" stroke="#C0C0C0" stroke-width="1" stroke-linejoin="miter" />
<polyline points="655.0,499.5 656.5,490.0 657.0,499.5" fill="none" stroke="#C0C0C0" stroke-width="1" stroke-linejoin="miter" />
<polyline points="334.7,499.4 337.3,499.4 340.7,497.2 346.7,494.6 353.5,491.2 360.4,488.7 365.5,489.5 372.3,488.1 380.8,487.8 383.4,486.1 389.4,485.2 397.9,483.5 403.0,481.8 408.2,480.6 409.9,482.7 411.6,481.3 416.7,482.7 419.3,483.9 422.0,482.7 427.1,482.3 434.0,482.7 439.1,481.0 442.5,481.8 445.9,483.0 449.3,486.1 452.7,482.7 454.4,484.4 457.9,476.7 460.4,475.3 462.1,477.6 464.7,480.1 468.1,477.9 469.8,480.1 472.4,485.2 475.8,488.7 480.1,486.4 485.2,486.4 490.3,490.9 495.4,491.2 498.8,492.9 507.4,493.3 510.8,495.5 515.1,496.0 517.6,498.9 519.0,499.4" fill="none" stroke="#FFA080" stroke-width="1" stroke-linejoin="miter" />
<polyline points="604.5,499.5 606.6,497.2 608.3,498.9 610.0,498.0 612.0,498.9 616.8,498.9" fill="none" stroke="#000" stroke-width="1" stroke-linejoin="miter" />
<polyline points="188.6,238.3 192.0,235.3 194.5,238.3 198.8,238.3 200.5,235.7 202.2,238.3 203.9,235.7 205.6,238.3 208.2,238.8 210.8,240.8 212.5,238.3 216.7,237.7 218.4,235.7 220.2,238.3 222.7,235.3 224.4,234.0 227.0,229.7 228.7,232.6 230.4,229.7 233.0,226.3 237.2,226.3 239.8,222.9 251.7,222.9 253.5,226.3 256.0,223.4 257.7,226.3 266.3,226.3 268.0,223.4 270.5,226.3 273.1,222.9 276.5,219.5 283.3,219.5 285.9,216.0 288.5,207.5 291.0,209.2 293.6,207.5 296.1,210.1 297.9,208.4 299.6,211.8 302.1,212.6 304.0,212.6 306.6,207.5 311.7,205.0 314.2,206.7 316.0,207.5 318.5,205.0 321.9,203.2 326.2,199.8 329.6,195.6 333.9,192.2 336.0,191.0 338.0,192.5 341.0,189.0 343.0,190.0 345.0,186.2 348.4,178.5 351.0,179.5 353.0,176.5 355.2,175.9 358.0,177.0 360.0,174.0 363.8,173.4 367.0,175.1 370.6,175.1 373.0,172.5 375.7,172.5 379.1,167.4 381.0,170.0 384.3,164.8 386.0,166.0 389.4,163.1 392.0,164.0 396.2,159.7 398.0,162.0 400.0,159.4 404.7,159.4 409.9,158.0 412.0,160.6 414.0,158.5 416.7,160.6 418.0,163.0 419.0,158.9 422.0,158.9 426.3,156.3 428.8,158.9 433.1,159.7 436.5,165.7 439.9,166.6 444.2,170.8 445.9,170.0 447.6,172.2 461.3,172.2 463.0,166.6 467.3,166.6 469.0,171.7 473.2,170.0 475.8,171.7 480.9,166.6 483.5,169.1 487.7,166.6 489.5,169.1 492.0,171.7 494.6,165.7 497.1,168.3 498.8,163.1 502.3,168.3 504.0,165.7 509.1,159.7 512.5,163.1 517.6,164.8 520.2,160.6 524.5,158.9 527.9,158.0 530.4,159.7 533.0,156.3 536.4,153.7 540.0,152.9 542.6,153.7 546.8,151.2 549.4,150.3 552.0,156.3 555.4,145.2 557.1,149.5 559.6,140.9 562.2,140.9 563.9,146.9 567.3,137.5 569.9,140.1 572.4,137.5 574.1,140.1 584.4,140.1 586.1,137.5 589.5,140.1 592.9,143.5 596.3,138.4 599.7,134.1 603.2,137.5 610.0,137.5 615.1,131.5 616.8,129.0 618.5,131.5 624.5,131.5 626.2,129.0 627.9,134.1 632.2,134.1 634.7,131.5 638.2,140.1 642.4,140.1 644.1,137.5 653.5,137.5 656.5,132.4" fill="none" stroke="#FF0080" stroke-width="1" stroke-linejoin="miter" />
<polyline points="188.0,106.5 227.0,106.5 228.5,102.5 239.3,102.5 240.3,90.5 241.2,97.0 242.4,102.5 607.4,102.5 609.1,106.5 657.0,106.5" fill="none" stroke="#8080FF" stroke-width="1" stroke-linejoin="miter" />
<polyline points="188.3,425.5 189.4,428.5 190.5,433.2 192.8,437.4 195.4,445.1 198.0,448.5 201.4,467.3 203.9,469.0 206.5,477.6 209.1,479.3 211.6,487.8 215.9,488.7 217.6,498.0 220.2,487.8 222.7,486.1 226.1,472.4 227.8,450.2 230.4,426.3 233.0,414.4 235.5,399.0 237.2,381.4 238.9,379.7 239.8,355.8 240.6,335.3 241.5,338.7 242.4,350.6 243.2,328.4 244.9,320.8 255.2,320.8 256.9,309.3 266.3,309.3 268.5,299.4 269.7,309.3 278.2,309.3 279.1,319.9 285.9,319.9 287.6,330.2 292.7,330.2 294.4,340.4 315.1,340.4 317.7,350.3 325.3,350.3 327.1,340.4 332.2,340.4 333.9,330.7 339.9,330.7 341.6,320.4 350.1,320.4 351.8,309.3 366.3,309.3 368.5,299.4 374.0,299.4 376.6,290.0 384.3,290.0 385.1,279.2 395.4,279.2 397.1,269.0 403.0,269.0 405.6,257.9 418.4,257.9 420.1,248.5 421.0,258.7 422.0,258.7 424.6,250.2 425.4,248.5 426.3,257.9 430.5,257.9 431.4,248.5 447.6,248.5 449.3,238.8 454.4,238.8 457.0,228.5 462.1,228.5 463.0,217.8 469.0,217.8 470.7,207.5 478.4,207.5 480.9,197.3 526.2,197.3 527.9,207.5 532.1,207.5 534.7,197.3 540.0,197.3 541.7,206.7 554.5,206.7 555.4,216.9 565.4,217.5 567.5,228.4 568.3,217.5 570.4,217.5 572.8,227.8 573.7,227.8 576.0,217.5 578.6,228.2 580.5,217.0 581.5,228.2 583.6,228.2 585.5,217.5 586.5,228.2 588.6,217.5 589.6,228.2 606.6,228.2 609.1,252.7 617.7,252.7 619.4,263.8 629.6,263.8 630.5,274.1 638.2,274.1 640.7,284.3 657.0,284.3" fill="none" stroke="#00FF00" stroke-width="1" stroke-linejoin="miter" />
<polyline points="188.5,366.0 190.3,376.3 193.7,376.3 195.4,386.5 198.8,386.5 199.7,398.5 200.5,404.1 203.1,407.5 204.8,408.4 205.6,413.5 209.1,417.8 210.8,423.8 212.5,428.0 216.7,428.0 217.1,439.1 218.4,429.7 221.9,428.0 223.6,421.2 225.3,412.7 227.0,405.8 229.5,381.4 231.3,372.8 232.1,367.7 234.7,366.9 235.5,357.5 236.4,347.2 237.2,337.0 238.9,336.1 239.8,318.2 241.5,309.7 242.4,302.8 243.2,296.0 244.9,275.8 255.2,275.8 256.9,263.9 266.3,263.9 267.1,254.5 268.8,256.2 269.7,263.0 278.2,263.0 279.1,275.0 286.8,275.0 287.6,284.4 292.7,284.4 293.6,295.1 316.0,295.1 316.8,304.5 326.2,304.5 327.1,299.4 327.9,295.1 333.0,295.1 333.0,285.2 340.7,285.2 340.7,275.0 351.0,275.0 351.0,263.9 367.2,263.9 368.0,253.6 374.9,253.6 375.7,243.9 385.1,243.9 385.1,234.0 396.2,234.0 397.1,223.4 403.9,223.4 405.6,213.0 418.5,213.0 419.5,203.8 420.8,203.8 421.3,213.0 423.5,213.0 424.3,203.8 425.5,203.8 426.3,213.0 430.8,213.0 431.3,202.8 448.2,202.8 448.6,192.4 455.2,192.4 455.6,181.9 462.1,181.9 462.1,171.7 469.0,171.7 469.8,162.3 478.4,162.3 480.1,152.0 480.9,151.0 526.7,151.0 526.7,161.8 533.2,161.8 533.2,151.0 541.0,151.0 541.0,161.8 554.7,161.8 554.7,171.8 565.6,171.8 567.0,182.0 568.5,182.0 569.5,172.0 570.5,172.0 572.0,182.0 573.5,182.0 574.5,172.0 575.5,172.0 577.0,182.0 578.0,182.0 579.0,172.0 580.0,172.0 581.5,182.0 582.5,182.0 583.5,172.0 584.5,172.0 585.5,182.0 586.5,172.0 588.5,172.0 589.5,182.0 606.6,182.0 606.6,191.3 616.8,191.3 618.5,202.4 629.6,202.4 630.5,212.6 638.7,212.6 639.9,223.0 657.0,223.0" fill="none" stroke="#008000" stroke-width="2" stroke-linejoin="miter" />
<polyline points="188.0,499.5 227.0,499.7 227.8,474.1 229.5,455.4 231.3,421.2 233.0,402.4 234.7,374.6 236.4,360.9 238.9,338.7 241.5,318.2 244.1,308.0 246.6,301.1 248.3,297.2 250.0,292.9 254.3,289.5 259.4,286.6 266.3,286.1 304.0,285.5 339.9,285.5 340.7,275.0 341.6,263.0 344.1,251.1 345.8,242.5 350.1,234.8 355.2,228.0 358.6,226.3 368.0,224.2 368.5,216.9 369.7,205.8 370.6,201.5 371.5,205.0 372.3,210.1 373.2,200.7 375.7,193.0 379.1,183.6 386.0,175.9 392.8,173.4 400.5,171.7 401.3,168.3 402.2,144.4 403.0,139.2 404.7,130.7 407.3,124.7 409.9,120.4 413.3,117.0 417.6,114.5 422.0,112.4 425.4,111.4 456.2,111.4 457.0,103.4 457.9,90.5 492.9,90.5 497.1,98.2 500.6,103.4 505.7,107.6 509.1,109.3 521.0,110.2 522.8,118.7 524.5,135.8 526.2,149.5 527.9,156.3 531.3,163.1 536.4,167.4 540.0,169.6 550.2,171.6 563.9,172.3 609.3,172.3 609.8,177.2 610.6,184.5 611.4,189.4 611.8,180.0 612.5,178.0 613.8,180.0 615.0,184.5 615.9,191.8 616.7,195.9 617.9,200.0 619.1,204.0 620.3,208.9 623.6,214.6 625.4,216.9 632.2,221.2 639.9,222.9 657.0,222.9" fill="none" stroke="#804000" stroke-width="1" stroke-linejoin="miter" />
<polyline points="188.0,90.5 492.4,90.5 492.9,103.4 494.6,130.7 495.4,193.0 496.3,247.6 497.1,261.3 498.5,298.0 498.8,329.3 499.7,371.1 500.6,401.0 500.9,404.1 501.4,424.6 502.3,440.0 504.0,453.6 505.2,473.5 657.0,473.5" fill="none" stroke="#00FFFF" stroke-width="1" stroke-linejoin="miter" />
<rect x="187" y="89" width="472" height="2" fill="#808080"/>
<rect x="187" y="89" width="2" height="412" fill="#808080"/>
<rect x="656" y="89" width="3" height="412" fill="#808080"/>
<rect x="187" y="499" width="472" height="2" fill="#808080"/>
<rect x="189" y="90" width="304" height="1" fill="#00FFFF"/>
<line x1="189" y1="499.5" x2="657" y2="499.5" stroke="#FF8000" stroke-width="1" stroke-dasharray="2 1 1 1"/>
<rect x="184" y="500" width="4" height="1" fill="#808080"/>
<rect x="184" y="90" width="4" height="1" fill="#808080"/>
<rect x="202" y="496" width="2" height="13" fill="#707070"/>
<rect x="482" y="496" width="2" height="13" fill="#707070"/>
<rect x="334" y="496" width="2" height="9" fill="#FFFF00"/>
<rect x="517" y="496" width="2" height="9" fill="#FFFF00"/>
<text transform="translate(10,530) scale(0.92,1)" fill="#000" font-size="12" text-anchor="start" filter="url(#crisp)">09:20</text>
<path d="M40,528.5 Q44.5,520 49,528.5 Z" fill="#FFFF00"/>
<text transform="translate(210,530) scale(0.92,1)" fill="#000" font-size="12" text-anchor="start" filter="url(#crisp)">00:47</text>
<rect x="198.5" y="520.5" width="5" height="5" fill="none" stroke="#3030C0" stroke-width="1" stroke-dasharray="1 1"/>
<path d="M205.5,522 L209,527 L207,527 L207,530.5 L204,530.5 L204,527 L202,527 Z" fill="#FFFF00" stroke="#000" stroke-width="0.6"/>
<text transform="translate(301,530) scale(0.92,1)" fill="#000" font-size="12" text-anchor="start" filter="url(#crisp)">07:29</text>
<circle cx="335.5" cy="526" r="3.6" fill="#FFFF00"/>
<g stroke="#FFFF80" stroke-width="1"><line x1="330.5" y1="526" x2="340.5" y2="526"/><line x1="335.5" y1="521" x2="335.5" y2="531"/><line x1="332" y1="522.5" x2="339" y2="529.5"/><line x1="339" y1="522.5" x2="332" y2="529.5"/></g>
<circle cx="335" cy="525.8" r="3.1" fill="#FFFF00"/>
<text transform="translate(484,530) scale(0.92,1)" fill="#000" font-size="12" text-anchor="start" filter="url(#crisp)">16:49</text>
<rect x="515.5" y="523.5" width="5" height="5" fill="none" stroke="#FFFF00" stroke-width="1"/>
<rect x="1" y="539" width="843" height="76" fill="#C0C0C0"/>
<rect x="87" y="539" width="1" height="76" fill="#FFFFFF"/>
<rect x="88" y="539" width="1" height="76" fill="#A09C8C"/>
<rect x="204" y="539" width="1" height="76" fill="#FFFFFF"/>
<rect x="205" y="539" width="1" height="76" fill="#A09C8C"/>
<rect x="322" y="539" width="1" height="76" fill="#FFFFFF"/>
<rect x="323" y="539" width="1" height="76" fill="#A09C8C"/>
<rect x="440" y="539" width="1" height="76" fill="#FFFFFF"/>
<rect x="441" y="539" width="1" height="76" fill="#A09C8C"/>
<rect x="558" y="539" width="1" height="76" fill="#FFFFFF"/>
<rect x="559" y="539" width="1" height="76" fill="#A09C8C"/>
<rect x="676" y="539" width="1" height="76" fill="#FFFFFF"/>
<rect x="677" y="539" width="1" height="76" fill="#A09C8C"/>
<rect x="794" y="539" width="1" height="76" fill="#FFFFFF"/>
<rect x="795" y="539" width="1" height="76" fill="#A09C8C"/>
<rect x="844" y="538" width="1" height="77" fill="#A09C8C"/>
<text transform="translate(8.5,557) scale(0.97,1)" fill="#000" font-size="12" text-anchor="start" font-weight="bold" stroke="#000" stroke-width="0.3" filter="url(#crisp)">Sensor</text>
<text transform="translate(8.5,573) scale(0.97,1)" fill="#000" font-size="12" text-anchor="start" font-weight="bold" stroke="#000" stroke-width="0.3" filter="url(#crisp)">MinWert</text>
<text transform="translate(8.5,589) scale(0.97,1)" fill="#000" font-size="12" text-anchor="start" font-weight="bold" stroke="#000" stroke-width="0.3" filter="url(#crisp)">MaxWert</text>
<text transform="translate(8.5,605) scale(0.97,1)" fill="#000" font-size="12" text-anchor="start" font-weight="bold" stroke="#000" stroke-width="0.3" filter="url(#crisp)">Durchschnitt</text>
<text transform="translate(8.5,621) scale(0.97,1)" fill="#000" font-size="12" text-anchor="start" font-weight="bold" stroke="#000" stroke-width="0.3" filter="url(#crisp)">10.11. 23:55</text>
<text transform="translate(95.5,557) scale(0.97,1)" fill="#000" font-size="12" text-anchor="start" font-weight="bold" stroke="#000" stroke-width="0.3" filter="url(#crisp)">T- 2m aktiv</text>
<text transform="translate(198.5,557) scale(0.97,1)" fill="#000" font-size="12" text-anchor="end" font-weight="bold" stroke="#000" stroke-width="0.3" filter="url(#crisp)">°C</text>
<text transform="translate(100.5,573) scale(0.92,1)" fill="#000" font-size="12" text-anchor="start" filter="url(#crisp)">01:25</text>
<text transform="translate(198.5,573) scale(0.92,1)" fill="#000" font-size="12" text-anchor="end" filter="url(#crisp)">4.6</text>
<text transform="translate(100.5,589) scale(0.92,1)" fill="#000" font-size="12" text-anchor="start" filter="url(#crisp)">14:55</text>
<text transform="translate(198.5,589) scale(0.92,1)" fill="#000" font-size="12" text-anchor="end" filter="url(#crisp)">7.4</text>
<text transform="translate(100,605) scale(0.92,1)" fill="#000" font-size="12" text-anchor="start" filter="url(#crisp)">(+ 1.36 )</text>
<text transform="translate(198.5,605) scale(0.92,1)" fill="#000" font-size="12" text-anchor="end" filter="url(#crisp)">6.56</text>
<text transform="translate(198.5,621) scale(0.97,1)" fill="#000" font-size="12" text-anchor="end" font-weight="bold" stroke="#000" stroke-width="0.3" filter="url(#crisp)">6.7</text>
<text transform="translate(212.5,557) scale(0.97,1)" fill="#000" font-size="12" text-anchor="start" font-weight="bold" stroke="#000" stroke-width="0.3" filter="url(#crisp)">F- 2m aktiv</text>
<text transform="translate(316.5,557) scale(0.97,1)" fill="#000" font-size="12" text-anchor="end" font-weight="bold" stroke="#000" stroke-width="0.3" filter="url(#crisp)">%</text>
<text transform="translate(218.5,573) scale(0.92,1)" fill="#000" font-size="12" text-anchor="start" filter="url(#crisp)">00:00</text>
<text transform="translate(316.5,573) scale(0.92,1)" fill="#000" font-size="12" text-anchor="end" filter="url(#crisp)">96</text>
<text transform="translate(218.5,589) scale(0.92,1)" fill="#000" font-size="12" text-anchor="start" filter="url(#crisp)">02:40</text>
<text transform="translate(316.5,589) scale(0.92,1)" fill="#000" font-size="12" text-anchor="end" filter="url(#crisp)">100</text>
<text transform="translate(316.5,605) scale(0.92,1)" fill="#000" font-size="12" text-anchor="end" filter="url(#crisp)">97</text>
<text transform="translate(218.5,621) scale(0.92,1)" fill="#000" font-size="12" text-anchor="start" filter="url(#crisp)">7.20 g/m³</text>
<text transform="translate(316.5,621) scale(0.97,1)" fill="#000" font-size="12" text-anchor="end" font-weight="bold" stroke="#000" stroke-width="0.3" filter="url(#crisp)">96</text>
<text transform="translate(330.5,557) scale(0.97,1)" fill="#000" font-size="12" text-anchor="start" font-weight="bold" stroke="#000" stroke-width="0.3" filter="url(#crisp)">Luftdruck</text>
<text transform="translate(435,557) scale(0.97,1)" fill="#000" font-size="12" text-anchor="end" font-weight="bold" stroke="#000" stroke-width="0.3" filter="url(#crisp)">hPa</text>
<text transform="translate(336.5,573) scale(0.92,1)" fill="#000" font-size="12" text-anchor="start" filter="url(#crisp)">01:00</text>
<text transform="translate(435,573) scale(0.92,1)" fill="#000" font-size="12" text-anchor="end" filter="url(#crisp)">1024.2</text>
<text transform="translate(336.5,589) scale(0.92,1)" fill="#000" font-size="12" text-anchor="start" filter="url(#crisp)">21:50</text>
<text transform="translate(435,589) scale(0.92,1)" fill="#000" font-size="12" text-anchor="end" filter="url(#crisp)">1027.8</text>
<text transform="translate(330.5,605) scale(0.92,1)" fill="#000" font-size="12" text-anchor="start" filter="url(#crisp)">^0.6hPa/h</text>
<text transform="translate(435,605) scale(0.92,1)" fill="#000" font-size="12" text-anchor="end" filter="url(#crisp)">1026.2</text>
<text transform="translate(340,621) scale(0.92,1)" fill="#000" font-size="12" text-anchor="start" filter="url(#crisp)">fällt leicht</text>
<text transform="translate(435,621) scale(0.97,1)" fill="#000" font-size="12" text-anchor="end" font-weight="bold" stroke="#000" stroke-width="0.3" filter="url(#crisp)">1027.7</text>
<text transform="translate(447.5,557) scale(0.97,1)" fill="#000" font-size="12" text-anchor="start" font-weight="bold" stroke="#000" stroke-width="0.3" filter="url(#crisp)">Windböen</text>
<text transform="translate(553,557) scale(0.97,1)" fill="#000" font-size="12" text-anchor="end" font-weight="bold" stroke="#000" stroke-width="0.3" filter="url(#crisp)">km/h</text>
<text transform="translate(448,573) scale(0.92,1)" fill="#000" font-size="12" text-anchor="start" filter="url(#crisp)">Ø 10 min.</text>
<text transform="translate(553,573) scale(0.92,1)" fill="#000" font-size="12" text-anchor="end" filter="url(#crisp)">0.8</text>
<text transform="translate(454.5,589) scale(0.92,1)" fill="#000" font-size="12" text-anchor="start" filter="url(#crisp)">21:25</text>
<text transform="translate(553,589) scale(0.92,1)" fill="#000" font-size="12" text-anchor="end" filter="url(#crisp)">SO 4.8</text>
<text transform="translate(553,605) scale(0.92,1)" fill="#000" font-size="12" text-anchor="end" filter="url(#crisp)">0.2</text>
<text transform="translate(454.5,621) scale(0.92,1)" fill="#000" font-size="12" text-anchor="start" filter="url(#crisp)">1.8/4.6 SO</text>
<text transform="translate(553,621) scale(0.97,1)" fill="#000" font-size="12" text-anchor="end" font-weight="bold" stroke="#000" stroke-width="0.3" filter="url(#crisp)">1.6</text>
<text transform="translate(566,557) scale(0.97,1)" fill="#000" font-size="12" text-anchor="start" font-weight="bold" stroke="#000" stroke-width="0.3" filter="url(#crisp)">Regen</text>
<text transform="translate(670.5,557) scale(0.97,1)" fill="#000" font-size="12" text-anchor="end" font-weight="bold" stroke="#000" stroke-width="0.3" filter="url(#crisp)">l/m²</text>
<text transform="translate(566,573) scale(0.92,1)" fill="#000" font-size="12" text-anchor="start" filter="url(#crisp)">16:10 h</text>
<text transform="translate(572.5,589) scale(0.92,1)" fill="#000" font-size="12" text-anchor="start" filter="url(#crisp)">00:00</text>
<text transform="translate(670.5,589) scale(0.92,1)" fill="#000" font-size="12" text-anchor="end" filter="url(#crisp)">0.0</text>
<text transform="translate(566,605) scale(0.92,1)" fill="#000" font-size="12" text-anchor="start" filter="url(#crisp)">Gesamt:</text>
<text transform="translate(670.5,605) scale(0.92,1)" fill="#000" font-size="12" text-anchor="end" filter="url(#crisp)">0.0</text>
<text transform="translate(566,621) scale(0.92,1)" fill="#000" font-size="12" text-anchor="start" filter="url(#crisp)">0.0 l/h ³</text>
<text transform="translate(670.5,621) scale(0.97,1)" fill="#000" font-size="12" text-anchor="end" font-weight="bold" stroke="#000" stroke-width="0.3" filter="url(#crisp)">0.0</text>
<text transform="translate(684,557) scale(0.97,1)" fill="#000" font-size="12" text-anchor="start" font-weight="bold" stroke="#000" stroke-width="0.3" filter="url(#crisp)">PMV 0:9</text>
<text transform="translate(684,573) scale(0.92,1)" fill="#000" font-size="12" text-anchor="start" filter="url(#crisp)">WC 6.7 °C</text>
<text transform="translate(684,589) scale(0.92,1)" fill="#000" font-size="12" text-anchor="start" filter="url(#crisp)">TP 6.1 °C</text>
<text transform="translate(684,605) scale(0.92,1)" fill="#000" font-size="12" text-anchor="start" filter="url(#crisp)">0.2hPa/3h</text>
<text transform="translate(684,621) scale(0.92,1)" fill="#000" font-size="12" text-anchor="start" filter="url(#crisp)">0.2hPa/1h</text>
</svg>
</body></html>
